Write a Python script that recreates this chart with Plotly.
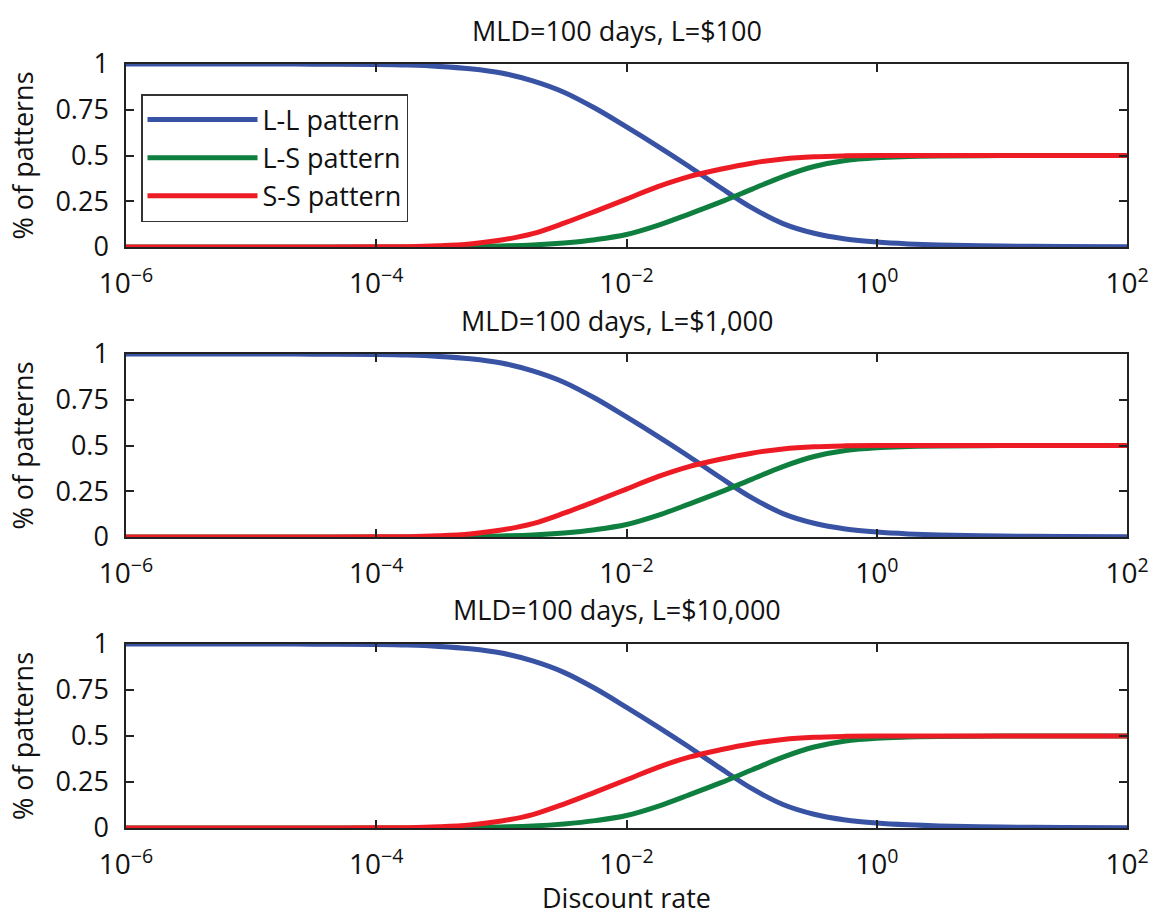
import plotly.graph_objects as go

# ---- data ----
discount_rate = [1e-6, 1e-5, 3.16e-5, 1e-4, 1.78e-4, 3.16e-4, 5.62e-4, 1e-3,
                 1.78e-3, 3.16e-3, 5.62e-3, 1e-2, 1.78e-2, 3.16e-2, 5.62e-2,
                 0.1, 0.178, 0.316, 0.562, 1.0, 1.78, 3.16, 10.0, 31.6, 100.0]
ll_pattern = [1.0, 1.0, 0.999, 0.997, 0.994, 0.987, 0.974, 0.951, 0.908, 0.846,
              0.758, 0.656, 0.55, 0.44, 0.325, 0.215, 0.128, 0.075, 0.044, 0.027,
              0.017, 0.011, 0.005, 0.003, 0.002]
ls_pattern = [0.0, 0.0, 0.0, 0.0, 0.0005, 0.001, 0.003, 0.006, 0.011, 0.022,
              0.04, 0.068, 0.118, 0.18, 0.245, 0.315, 0.385, 0.44, 0.473, 0.488,
              0.494, 0.497, 0.5, 0.5, 0.5]
ss_pattern = [0.0, 0.0, 0.0, 0.001, 0.002, 0.007, 0.017, 0.038, 0.073, 0.13,
              0.195, 0.262, 0.33, 0.385, 0.425, 0.458, 0.481, 0.493, 0.498, 0.5,
              0.5, 0.5, 0.5, 0.5, 0.5]

panel_titles = ["MLD=100 days, L=$100", "MLD=100 days, L=$1,000", "MLD=100 days, L=$10,000"]
series_names = ["L-L pattern", "L-S pattern", "S-S pattern"]
series_values = [ll_pattern, ls_pattern, ss_pattern]
series_colors = ["#3953a4", "#0f7f3f", "#ed1c24"]

x_tickvals = [1e-6, 1e-4, 1e-2, 1e0, 1e2]
x_ticktext = ["10<sup>\u22126</sup>", "10<sup>\u22124</sup>", "10<sup>\u22122</sup>",
              "10<sup>0</sup>", "10<sup>2</sup>"]
y_tickvals = [0, 0.25, 0.5, 0.75, 1]
y_ticktext = ["0", "0.25", "0.5", "0.75", "1"]

FONT = "Open Sans"
FS = 27
AXC = "#222222"

# layout geometry (pixels)
W, H = 1155, 916
L, R, T, B = 126, 28, 64, 88
plot_h = H - T - B
panel_px = [(64, 247), (354, 537), (644, 828)]
title_px = [30, 321, 609]

def py(p):
    return (H - B - p) / plot_h

fig = go.Figure()
layout = dict(
    width=W, height=H,
    margin=dict(l=L, r=R, t=T, b=B, autoexpand=False),
    paper_bgcolor="white", plot_bgcolor="white",
    font=dict(family=FONT, size=FS, color="#111111"),
    showlegend=True,
    legend=dict(x=(141 - L) / (W - L - R), y=py(94), xanchor="left", yanchor="top",
                bgcolor="white", bordercolor="#333333", borderwidth=1.5,
                font=dict(family=FONT, size=FS), tracegroupgap=0,
                itemwidth=110),
    annotations=[],
)

for i in range(3):
    xa = "x" if i == 0 else f"x{i+1}"
    ya = "y" if i == 0 else f"y{i+1}"
    for name, vals, col in zip(series_names, series_values, series_colors):
        fig.add_trace(go.Scatter(
            x=discount_rate, y=vals, mode="lines", name=name,
            line=dict(color=col, width=5, shape="spline", smoothing=1.0),
            xaxis=xa, yaxis=ya, showlegend=(i == 0), legendgroup=name))
    top, bot = panel_px[i]
    xkey = "xaxis" if i == 0 else f"xaxis{i+1}"
    ykey = "yaxis" if i == 0 else f"yaxis{i+1}"
    layout[xkey] = dict(
        type="log", range=[-6, 2], domain=[0, 1], anchor=ya, automargin=False,
        tickmode="array", tickvals=x_tickvals, ticktext=x_ticktext,
        ticks="inside", ticklen=8, tickwidth=1.5, tickcolor=AXC,
        showline=True, linecolor=AXC, linewidth=1.5, mirror="ticks",
        showgrid=False, zeroline=False, ticklabelstandoff=11,
        tickfont=dict(family=FONT, size=28),
    )
    layout[ykey] = dict(
        range=[0, 1], domain=[py(bot), py(top)], anchor=xa, automargin=False,
        tickmode="array", tickvals=y_tickvals, ticktext=y_ticktext,
        ticks="inside", ticklen=8, tickwidth=1.5, tickcolor=AXC,
        showline=True, linecolor=AXC, linewidth=1.5, mirror="ticks",
        showgrid=False, zeroline=False, ticklabelstandoff=10,
        tickfont=dict(family=FONT, size=FS),
        title=dict(text="% of patterns", font=dict(family=FONT, size=FS), standoff=14),
    )
    layout["annotations"].append(dict(
        text=panel_titles[i], xref="paper", yref="paper",
        x=(617 - L) / (W - L - R), y=py(title_px[i]), xanchor="center", yanchor="middle",
        showarrow=False, font=dict(family=FONT, size=FS)))

layout["xaxis3"]["title"] = dict(text="Discount rate", font=dict(family=FONT, size=FS), standoff=14)

fig.update_layout(**layout)
fig.write_html("out.html")
